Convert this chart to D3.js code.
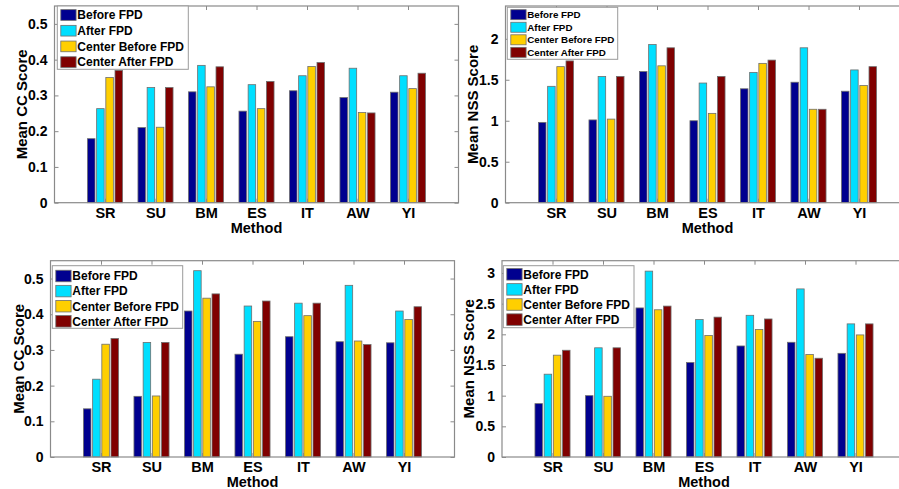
<!DOCTYPE html>
<html>
<head>
<meta charset="utf-8">
<script src="https://cdn.jsdelivr.net/npm/d3@7"></script>
<style>
  body { margin: 0; background: #fff; }
  text { font-family: "Liberation Sans", Arial, sans-serif; font-weight: bold; fill: #000; }
</style>
</head>
<body>
<div id="chart"></div>
<script>
// data
const methods = ["SR", "SU", "BM", "ES", "IT", "AW", "YI"];
const seriesNames = ["Before FPD", "After FPD", "Center Before FPD", "Center After FPD"];
const seriesColors = ["#00008f", "#00dfff", "#ffcf00", "#800000"];

// top row
const ccTop = [
  [0.179, 0.210, 0.310, 0.256, 0.313, 0.294, 0.309],
  [0.263, 0.322, 0.384, 0.330, 0.355, 0.376, 0.355],
  [0.350, 0.211, 0.324, 0.263, 0.381, 0.252, 0.319],
  [0.370, 0.322, 0.380, 0.339, 0.392, 0.251, 0.362]
];
const nssTop = [
  [0.98, 1.01, 1.60, 1.00, 1.39, 1.47, 1.36],
  [1.42, 1.54, 1.93, 1.46, 1.59, 1.89, 1.62],
  [1.66, 1.02, 1.67, 1.09, 1.70, 1.14, 1.43],
  [1.73, 1.54, 1.89, 1.54, 1.74, 1.14, 1.66]
];
// bottom row
const ccBottom = [
  [0.135, 0.170, 0.409, 0.288, 0.337, 0.323, 0.320],
  [0.218, 0.321, 0.522, 0.423, 0.431, 0.481, 0.409],
  [0.316, 0.171, 0.445, 0.380, 0.396, 0.325, 0.385],
  [0.332, 0.321, 0.457, 0.437, 0.431, 0.315, 0.421]
];
const nssBottom = [
  [0.87, 1.00, 2.43, 1.54, 1.81, 1.87, 1.69],
  [1.35, 1.78, 3.03, 2.24, 2.31, 2.74, 2.17],
  [1.66, 0.99, 2.40, 1.98, 2.08, 1.67, 1.99],
  [1.74, 1.78, 2.46, 2.28, 2.25, 1.61, 2.17]
];

const ccTicks = [0, 0.1, 0.2, 0.3, 0.4, 0.5];
const nssTicksTop = [0, 0.5, 1, 1.5, 2];
const nssTicksBottom = [0, 0.5, 1, 1.5, 2, 2.5, 3];

// page
const width = 899, height = 489;
const svg = d3.select("#chart").append("svg")
  .attr("width", width)
  .attr("height", height)
  .style("display", "block");

const axisColor = "#8a8a8a";

// one MATLAB-like grouped bar panel
function drawPanel(p) {
  var g = svg.append("g");

  var x = d3.scaleLinear().domain([0, methods.length + 1]).range([p.x0, p.x1]);
  var y = d3.scaleLinear().domain([0, p.ymax]).range([p.y1, p.y0]);

  var groupWidth = Math.min(0.8, seriesNames.length / (seriesNames.length + 1.5));
  var step = groupWidth / seriesNames.length;
  var barW = x(step * 0.82) - x(0);

  // bars
  p.data.forEach(function(vals, s) {
    g.selectAll(null)
      .data(vals)
      .enter().append("rect")
      .attr("x", (d, i) => x(i + 1 + (s - 1.5) * step) - barW / 2)
      .attr("y", d => y(d))
      .attr("width", barW)
      .attr("height", d => y(0) - y(d))
      .attr("fill", seriesColors[s])
      .attr("stroke", "#6e6e6e")
      .attr("stroke-width", 0.8);
  });

  // box
  g.append("rect")
    .attr("x", p.x0).attr("y", p.y0)
    .attr("width", p.x1 - p.x0).attr("height", p.y1 - p.y0)
    .attr("fill", "none")
    .attr("stroke", axisColor)
    .attr("stroke-width", 1.2);

  // y ticks, left and mirrored right
  var yAxisL = d3.axisLeft(y).tickValues(p.ticks).tickSize(-4).tickPadding(7)
    .tickFormat(d3.format("~g"));
  var gl = g.append("g").attr("transform", `translate(${p.x0},0)`).call(yAxisL);
  gl.select(".domain").remove();
  gl.selectAll("line").attr("stroke", axisColor);
  gl.selectAll("text").style("font-size", "14px").attr("fill", "#000");

  var gr = g.append("g").attr("transform", `translate(${p.x1},0)`)
    .call(d3.axisRight(y).tickValues(p.ticks).tickSize(-4).tickFormat(""));
  gr.select(".domain").remove();
  gr.selectAll("line").attr("stroke", axisColor);

  // x ticks, bottom and mirrored top
  var cats = d3.range(1, methods.length + 1);
  var gb = g.append("g").attr("transform", `translate(0,${p.y1})`)
    .call(d3.axisBottom(x).tickValues(cats).tickSize(-4).tickPadding(5)
      .tickFormat(d => methods[d - 1]));
  gb.select(".domain").remove();
  gb.selectAll("line").attr("stroke", axisColor);
  gb.selectAll("text").style("font-size", "14.5px").attr("fill", "#000");

  var gt = g.append("g").attr("transform", `translate(0,${p.y0})`)
    .call(d3.axisTop(x).tickValues(cats).tickSize(-4).tickFormat(""));
  gt.select(".domain").remove();
  gt.selectAll("line").attr("stroke", axisColor);

  // axis titles
  g.append("text")
    .attr("x", (x(1) + x(methods.length)) / 2)
    .attr("y", p.y1 + p.methodDy)
    .attr("text-anchor", "middle")
    .style("font-size", "14.5px")
    .text("Method");

  g.append("text")
    .attr("transform", `translate(${p.ylabelX},${(p.y0 + p.y1) / 2}) rotate(-90)`)
    .attr("text-anchor", "middle")
    .attr("dy", "0.35em")
    .style("font-size", "15px")
    .text(p.ylabel);

  // legend
  var L = p.legend;
  var lg = g.append("g");
  lg.append("rect")
    .attr("x", L.x).attr("y", L.y)
    .attr("width", L.w).attr("height", L.h)
    .attr("fill", "#fff")
    .attr("stroke", "#9a9a9a");
  seriesNames.forEach(function(name, s) {
    var cy = L.y + L.first + s * L.step;
    lg.append("rect")
      .attr("x", L.x + 3.5).attr("y", cy - L.sw / 2)
      .attr("width", 15.3).attr("height", L.sw)
      .attr("fill", seriesColors[s])
      .attr("stroke", "#6e6e6e")
      .attr("stroke-width", 0.8);
    lg.append("text")
      .attr("x", L.x + 20)
      .attr("y", cy)
      .attr("dy", "0.36em")
      .style("font-size", L.font + "px")
      .text(name);
  });
}

drawPanel({
  data: ccTop, ymax: 0.55, ticks: ccTicks, ylabel: "Mean CC Score",
  x0: 54.5, x1: 458.5, y0: 6, y1: 202.7, ylabelX: 21.7, methodDy: 30,
  legend: { x: 57.3, y: 6, w: 131, h: 63.3, first: 9, step: 15.7, sw: 10.7, font: 12 }
});
drawPanel({
  data: nssTop, ymax: 2.4, ticks: nssTicksTop, ylabel: "Mean NSS Score",
  x0: 505.5, x1: 909.5, y0: 6, y1: 202.7, ylabelX: 472.3, methodDy: 30,
  legend: { x: 507.3, y: 7.3, w: 110.4, h: 52, first: 7.4, step: 12.55, sw: 10, font: 9.8 }
});
drawPanel({
  data: ccBottom, ymax: 0.55, ticks: ccTicks, ylabel: "Mean CC Score",
  x0: 50.5, x1: 454.5, y0: 260.7, y1: 457, ylabelX: 18.3, methodDy: 29.5,
  legend: { x: 52.3, y: 265.7, w: 130.4, h: 62.6, first: 10.3, step: 15.1, sw: 11.5, font: 12 }
});
drawPanel({
  data: nssBottom, ymax: 3.2, ticks: nssTicksBottom, ylabel: "Mean NSS Score",
  x0: 502, x1: 906, y0: 260.7, y1: 457, ylabelX: 468.3, methodDy: 29.5,
  legend: { x: 503.3, y: 265.7, w: 130.7, h: 62, first: 8.6, step: 15.1, sw: 11.5, font: 12 }
});
</script>
</body>
</html>
